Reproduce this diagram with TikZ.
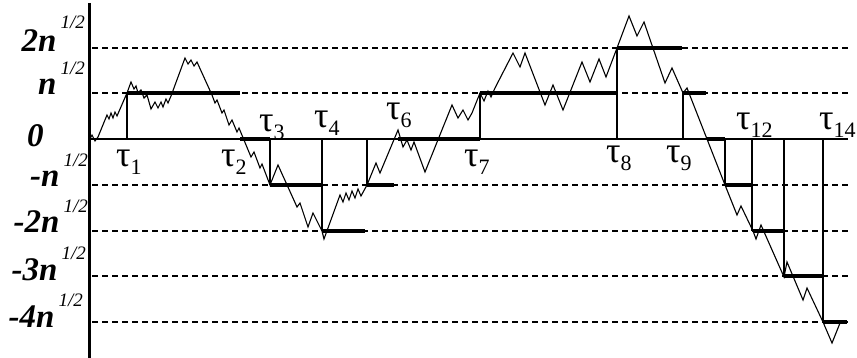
\documentclass[tikz,border=0pt]{standalone}
\usepackage{fontspec}
\setmainfont{Liberation Serif}
\usetikzlibrary{calc}
\tikzset{
  axis/.style={line width=3pt},
  lev/.style={line width=1.4pt, dash pattern=on 6pt off 4pt},
  walk/.style={line width=1.1pt, line join=miter},
  hold/.style={line width=4pt},
  stopline/.style={line width=1.2pt},
  ylab/.style={font=\fontsize{33}{33}\selectfont\bfseries\itshape, inner sep=0pt},
  tlab/.style={font=\fontsize{36}{36}\selectfont, inner sep=0pt, anchor=base west},
}
\newcommand{\half}[1][0.62em]{\kern0.12em\raisebox{#1}{\fontsize{19}{19}\selectfont\mdseries\itshape 1/2}}
\newcommand{\tsub}[1]{τ\raisebox{-0.2em}{\fontsize{22}{22}\selectfont #1}}

\begin{document}
\begin{tikzpicture}[x=1pt,y=-1pt]
  \useasboundingbox (0,0) rectangle (857,358);
  % levels k n^{1/2}
  \coordinate (o) at (90,139);
  \foreach \y in {48,93,185,231,276,322}
    \draw[lev] (92,\y) -- (848,\y);
  \draw[stopline] (o) -- (848,139);
  \draw[axis] (89.5,3) -- (89.5,358);

  \node[ylab,anchor=base east] (l2) at (85,52) {2n\half[0.72em]};
  \node[ylab,anchor=base east] (l1) at (85,95) {n\half};
  \node[ylab,anchor=base west] (l0) at (27,147) {0};
  \node[ylab,anchor=base east] (lm1) at (88,187) {-n\half};
  \node[ylab,anchor=base east] (lm2) at (88,233) {-2n\half};
  \node[ylab,anchor=base east] (lm3) at (86,280) {-3n\half};
  \node[ylab,anchor=base east] (lm4) at (83,327) {-4n\half};

  % hold levels and stopping times
  \foreach \xa/\xb/\y in {127/240/93, 240/270/139, 270/322/185, 322/365/231,
      367/394/185, 398/480/139, 480/617/93, 617/682/48, 683/706/93,
      707/725/139, 725/752/185, 753/783/231, 784/822/276, 823/847/322}
    \draw[hold] (\xa,\y) -- (\xb,\y);
  \foreach \x/\y [count=\i] in {127/93, 270/185, 322/231, 367/185, 617/48,
      683/93, 725/185, 752/231, 784/276, 823/322}{
    \coordinate (s\i) at (\x,\y);
    \draw[stopline] (s\i |- o) -- (s\i);
  }
  \coordinate (s7) at (480,93);
  \draw[stopline,line width=2pt] (s7 |- o) -- (s7);
  \draw[line width=2.5pt] (s9 |- o) -- (784,231);

  \node[tlab] (t1) at (116,167) {\tsub{1}};
  \node[tlab] (t2) at (221,167) {\tsub{2}};
  \node[tlab] (t3) at (259,132) {\tsub{3}};
  \node[tlab] (t4) at (314,128) {\tsub{4}};
  \node[tlab] (t6) at (386,120) {\tsub{6}};
  \node[tlab] (t7) at (464,167) {\tsub{7}};
  \node[tlab] (t8) at (606,163) {\tsub{8}};
  \node[tlab] (t9) at (666,163) {\tsub{9}};
  \node[tlab] (t12) at (736,130) {\tsub{12}};
  \node[tlab] (t14) at (819,130) {\tsub{14}};

  % the walk
  \draw[walk] (o) -- (92,135) -- (95,141) -- (98,137) -- (107,115) -- (109,119)
    -- (111,113) -- (113,118) -- (115,112) -- (117,116) -- (127,93) -- (131,82)
    -- (134,89) -- (136,86) -- (138,93) -- (141,90) -- (144,98) -- (147,95)
    -- (151,109) -- (155,102) -- (158,108) -- (161,102) -- (163,107) -- (166,99)
    -- (168,103) -- (171,96) -- (185,58) -- (188,64) -- (191,60) -- (194,66)
    -- (197,62) -- (212,95) -- (215,103) -- (217,100) -- (222,113) -- (224,110)
    -- (229,125) -- (232,120) -- (237,132) -- (239,128) -- (251,157) -- (254,152)
    -- (260,168) -- (262,164) -- (270,185) -- (278,165) -- (297,207) -- (300,203)
    -- (308,227) -- (313,213) -- (322,231) -- (324,239) -- (340,195) -- (343,202)
    -- (346,193) -- (349,200) -- (352,191) -- (355,198) -- (358,189) -- (361,196)
    -- (367,185) -- (376,163) -- (380,173) -- (398,130) -- (403,147) -- (407,140)
    -- (411,150) -- (414,142) -- (425,172) -- (452,105) -- (458,118) -- (463,110)
    -- (468,120) -- (472,113) -- (480,93) -- (484,101) -- (488,91) -- (491,97)
    -- (495,88) -- (513,53) -- (520,67) -- (525,53) -- (545,105) -- (553,85)
    -- (563,110) -- (582,62) -- (590,82) -- (599,59) -- (606,77) -- (617,48)
    -- (629,16) -- (637,36) -- (644,22) -- (665,83) -- (672,68) -- (683,93)
    -- (687,88) -- (725,185) -- (737,215) -- (741,206) -- (753,231) -- (756,239)
    -- (761,225) -- (784,277) -- (787,262) -- (803,300) -- (807,288) -- (823,322)
    -- (832,343) -- (840,323);
\end{tikzpicture}
\end{document}
